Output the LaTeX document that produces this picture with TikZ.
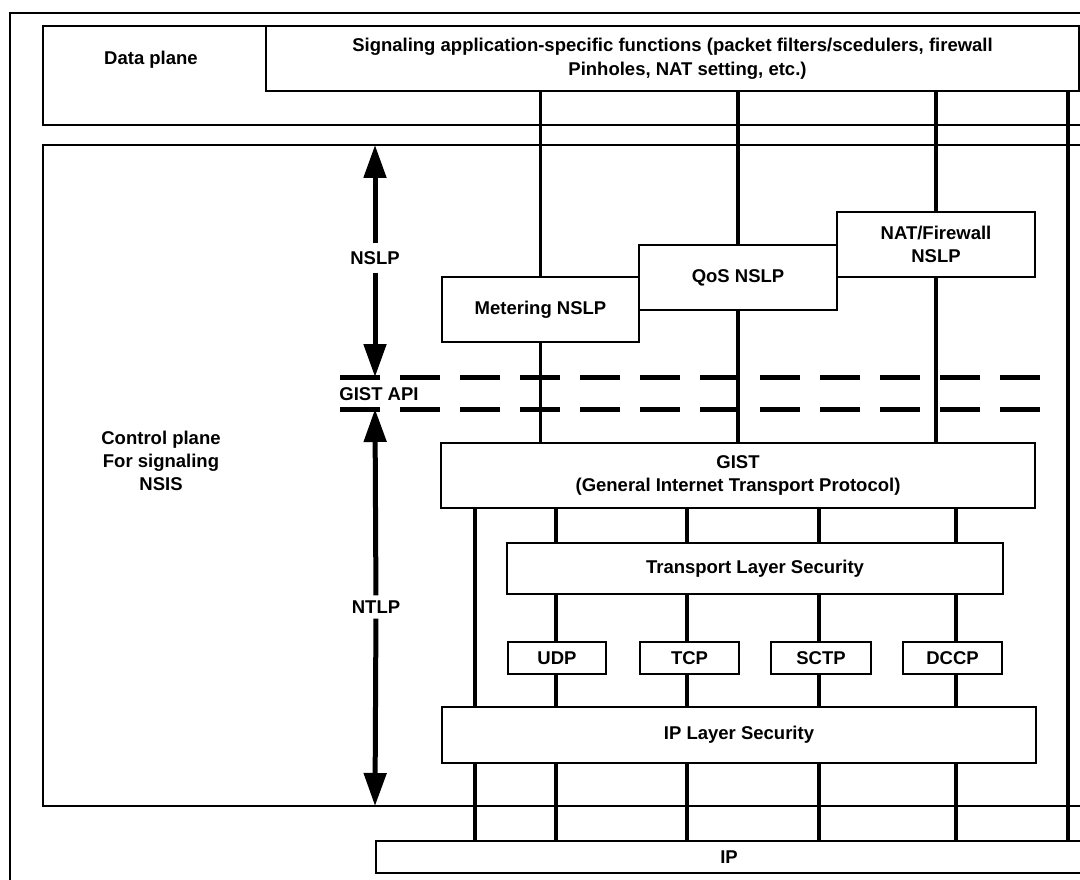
\documentclass[tikz,border=0pt]{standalone}
\usepackage{fontspec}
\setmainfont{Liberation Sans}
\usetikzlibrary{arrows.meta}
\begin{document}
\begin{tikzpicture}[x=1pt,y=-1pt,
  frame/.style={line width=1.4pt},
  box/.style={draw, line width=1.4pt, inner sep=0pt, align=center,
    font=\bfseries\fontsize{18.5}{23}\selectfont},
  lbl/.style={inner sep=0pt, align=center,
    font=\bfseries\fontsize{18.5}{23}\selectfont},
  conn/.style={line width=3.2pt},
  bigarrow/.style={line width=5pt, -{Triangle[length=33pt,width=22pt]}},
  apiline/.style={line width=5pt, dash pattern=on 40pt off 20pt},
]
\useasboundingbox (0,0) rectangle (1080,880);
\clip (0,0) rectangle (1080,880);
\fill[white] (0,0) rectangle (1080,880);

% outer frame and the two planes
\draw[frame] (10,900) -- (10,13) -- (1100,13);
\draw[frame] (43,26) rectangle (1100,125);
\draw[frame] (43,145) rectangle (1100,806);
\node[lbl] (dplabel) at (151,60) {Data plane};
\node[lbl] (cplabel) at (161,461) {Control plane\\For signaling\\NSIS};

% protocol boxes
\node[box, minimum width=813pt, minimum height=65pt, font=\bfseries\fontsize{18.5}{24}\selectfont] (sig) at (672.5,58.5)
  {Signaling application-specific functions (packet filters/scedulers, firewall\\\hspace*{30pt}Pinholes, NAT setting, etc.)};
\node[box, minimum width=197pt, minimum height=65pt] (meter) at (540.5,309.5) {Metering NSLP};
\node[box, minimum width=198pt, minimum height=65pt] (qos) at (738,277.5) {QoS NSLP};
\node[box, minimum width=198pt, minimum height=65pt] (nat) at (936,244.5) {NAT/Firewall\\NSLP};
\node[box, minimum width=594pt, minimum height=65pt] (gist) at (738,475.5)
  {GIST\\(General Internet Transport Protocol)};
\node[box, minimum width=496pt, minimum height=51pt] (tls) at (755,568.5) {Transport Layer Security};
\node[box, minimum width=98pt, minimum height=32pt] (udp) at (557,658) {UDP};
\node[box, minimum width=99pt, minimum height=32pt] (tcp) at (689.5,658) {TCP};
\node[box, minimum width=100pt, minimum height=32pt] (sctp) at (821,658) {SCTP};
\node[box, minimum width=99pt, minimum height=32pt] (dccp) at (952.5,658) {DCCP};
\node[box, minimum width=594pt, minimum height=56pt] (ipsec) at (739,735) {IP Layer Security};
\node[box, minimum width=706pt, minimum height=32pt] (ip) at (729,857) {IP};

% column positions of the vertical links
\coordinate (lx) at (475,0);
\coordinate (c1) at (556,0);
\coordinate (c2) at (687,0);
\coordinate (c3) at (819,0);
\coordinate (c4) at (956,0);
\coordinate (rx) at (1068,0);

% links between layers
\draw[conn] (sig.south -| meter.north) -- (meter.north);
\draw[conn] (sig.south -| qos.north) -- (qos.north);
\draw[conn] (sig.south -| nat.north) -- (nat.north);
\draw[conn] (sig.south -| rx) -- (ip.north -| rx);
\draw[conn] (meter.south) -- (gist.north -| meter.south);
\draw[conn] (qos.south) -- (gist.north -| qos.south);
\draw[conn] (nat.south) -- (gist.north -| nat.south);
\draw[conn] (gist.south -| lx) -- (ipsec.north -| lx);
\draw[conn] (ipsec.south -| lx) -- (ip.north -| lx);
\foreach \c/\t in {c1/udp, c2/tcp, c3/sctp, c4/dccp} {
  \draw[conn] (gist.south -| \c) -- (tls.north -| \c);
  \draw[conn] (tls.south -| \c) -- (\t.north -| \c);
  \draw[conn] (\t.south -| \c) -- (ipsec.north -| \c);
  \draw[conn] (ipsec.south -| \c) -- (ip.north -| \c);
}

% GIST API boundary
\coordinate (api1a) at (340,377);
\coordinate (api1b) at (1040,377);
\coordinate (api2a) at (340,409);
\coordinate (api2b) at (1040,409);
\draw[apiline] (api1a) -- (api1b);
\draw[apiline] (api2a) -- (api2b);
\node[lbl] (api) at (379,394) {GIST API};

% NSLP / NTLP extents
\coordinate (cptop) at (375,145);
\coordinate (apitop) at (375,377);
\coordinate (apibot) at (375,409);
\coordinate (cpbot) at (375,806);
\node[lbl, inner ysep=8pt] (nslp) at (375,258) {NSLP};
\node[lbl, inner ysep=5pt] (ntlp) at (376,607) {NTLP};
\draw[bigarrow] (nslp) -- (cptop);
\draw[bigarrow] (nslp) -- (apitop);
\draw[bigarrow] (ntlp) -- (apibot);
\draw[bigarrow] (ntlp) -- (cpbot);
\end{tikzpicture}
\end{document}
